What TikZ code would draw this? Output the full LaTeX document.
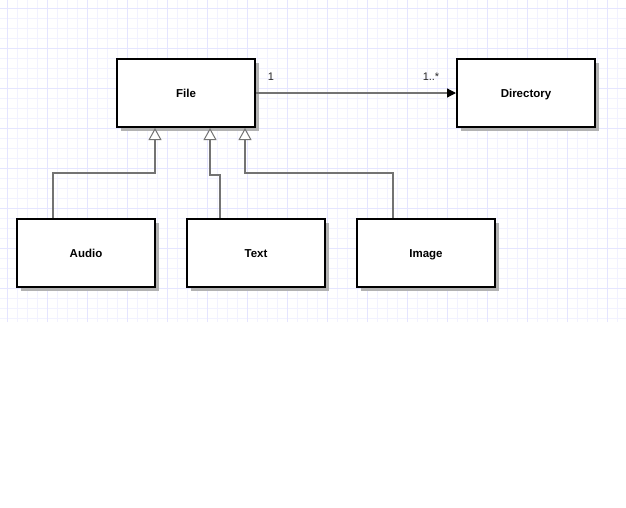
\documentclass[tikz,border=0pt]{standalone}
\usepackage{fontspec}
\setmainfont{Liberation Sans}
\usetikzlibrary{arrows.meta,shadows}

\tikzset{
    classbox/.style={draw, line width=2pt, fill=white, minimum width=138pt, minimum height=68pt,
        font=\fontsize{11.5}{13}\selectfont\bfseries, text height=8.5pt, text depth=0.5pt,
        drop shadow={shadow xshift=4pt, shadow yshift=-4pt, fill=black!30, opacity=1}},
    inherit/.style={draw=black!55, line width=1.2pt, -{Triangle[open, width=13pt, length=12pt, line width=1pt, fill=white]}},
    assoc/.style={draw=black!55, line width=1.2pt, -{Triangle[width=9pt, length=9pt, fill=black, color=black]}},
    mult/.style={font=\fontsize{11}{13}\selectfont, text=black!85}
}

\begin{document}
\begin{tikzpicture}[x=1pt, y=-1pt]
    \useasboundingbox (0,0) rectangle (626,507);

    % Background grid
    \begin{scope}[shift={(7,8)}]
        \draw[blue!5, line width=0.7pt, step=10pt] (-7,-8) grid (619,314);
        \draw[blue!10, line width=0.8pt, step=40pt] (-7,-8) grid (619,314);
    \end{scope}

    % Classes
    \node[classbox] (file) at (186,93) {File};
    \node[classbox] (directory) at (526,93) {Directory};
    \node[classbox] (audio) at (86,253) {Audio};
    \node[classbox] (text) at (256,253) {Text};
    \node[classbox] (image) at (426,253) {Image};

    % Association
    \draw[assoc] (file.east) -- (directory.west);
    \node[mult] (one) at (271,77) {1};
    \node[mult] (many) at (431,77) {1..*};

    % Generalisations
    \draw[inherit] ([xshift=37pt]audio.north west) -- ++(0,-45) -| ([xshift=39pt]file.south west);
    \draw[inherit] ([xshift=34pt]text.north west) -- ++(0,-43) -| ([xshift=94pt]file.south west);
    \draw[inherit] ([xshift=37pt]image.north west) -- ++(0,-45) -| ([xshift=129pt]file.south west);
\end{tikzpicture}
\end{document}
